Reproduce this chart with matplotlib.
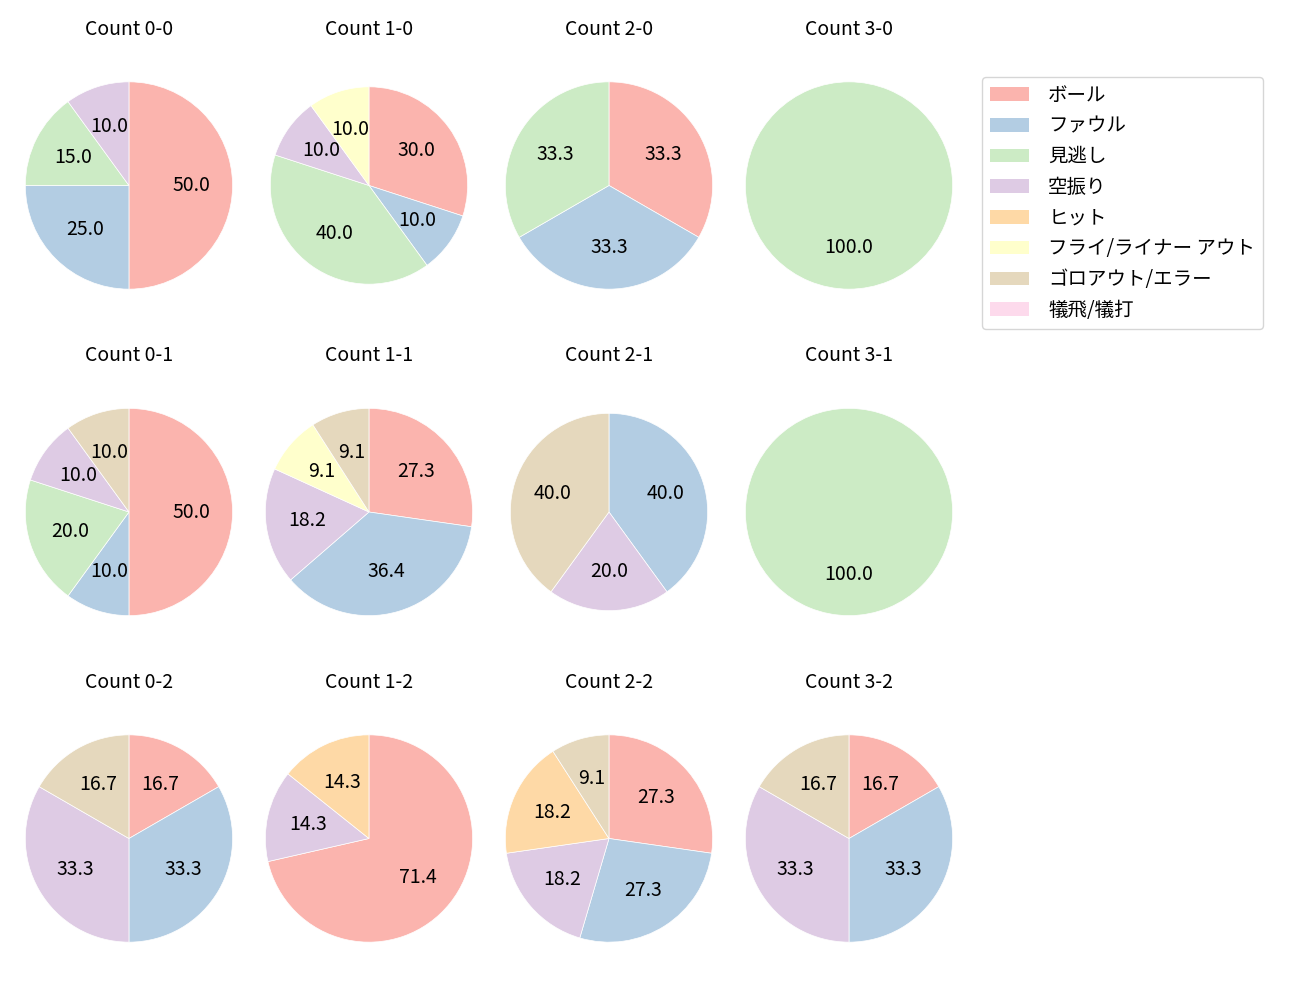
import matplotlib
matplotlib.use('Agg')
import matplotlib.pyplot as plt
from matplotlib.patches import Patch

plt.rcParams['font.family'] = ['Noto Sans CJK JP', 'DejaVu Sans']

categories = ['ボール', 'ファウル', '見逃し', '空振り', 'ヒット',
              'フライ/ライナー アウト', 'ゴロアウト/エラー', '犠飛/犠打']
counts = ['0-0', '1-0', '2-0', '3-0',
          '0-1', '1-1', '2-1', '3-1',
          '0-2', '1-2', '2-2', '3-2']

ball   = [10, 3, 1, 0, 5, 3, 0, 0, 1, 5, 3, 1]
foul   = [5, 1, 1, 0, 1, 4, 2, 0, 2, 0, 3, 2]
called = [3, 4, 1, 1, 2, 0, 0, 1, 0, 0, 0, 0]
swing  = [2, 1, 0, 0, 1, 2, 1, 0, 2, 1, 2, 2]
hit    = [0, 0, 0, 0, 0, 0, 0, 0, 0, 1, 2, 0]
fly    = [0, 1, 0, 0, 0, 1, 0, 0, 0, 0, 0, 0]
ground = [0, 0, 0, 0, 1, 1, 2, 0, 1, 0, 1, 1]
sac    = [0, 0, 0, 0, 0, 0, 0, 0, 0, 0, 0, 0]

series = [ball, foul, called, swing, hit, fly, ground, sac]
colors = plt.cm.Pastel1.colors[:8]

# these two come out a bit smaller in the original
small = ['1-0', '2-1']

fig, axes = plt.subplots(3, 5, figsize=(13, 10))
fig.subplots_adjust(left=0.0115, right=0.9254, top=0.955, bottom=0.021,
                    wspace=0.0526, hspace=0.162)

for i, c in enumerate(counts):
    ax = axes[i // 4][i % 4]
    vals = [s[i] for s in series]
    v = [x for x in vals if x > 0]
    col = [colors[k] for k, x in enumerate(vals) if x > 0]
    r = 0.952 if c in small else 1.0
    ax.pie(v, colors=col, startangle=90, counterclock=False,
           autopct='%.1f', radius=r, textprops={'fontsize': 14},
           wedgeprops={'edgecolor': 'white', 'linewidth': 0.5})
    ax.set_xlim(-1.1, 1.1)
    ax.set_ylim(-1.1, 1.1)
    ax.set_aspect('equal', adjustable='datalim')
    ax.set_title('Count ' + c, fontsize=14, pad=7.5)

for row in axes:
    row[4].axis('off')

handles = [Patch(facecolor=colors[k], label=categories[k]) for k in range(8)]
fig.legend(handles=handles, loc='upper left', fontsize=14, handletextpad=1.0,
           bbox_to_anchor=(982 / 1300, 1 - 77 / 1000), borderaxespad=0)

fig.savefig('out.png', dpi=100)
